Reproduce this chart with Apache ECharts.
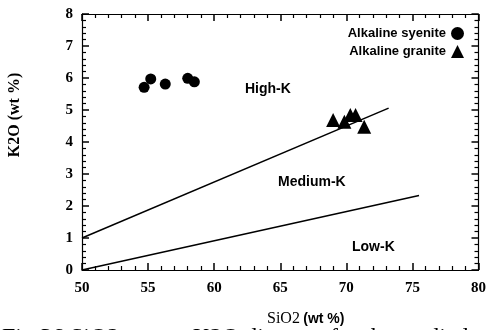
<!DOCTYPE html>
<html lang="en">
<head>
    <meta charset="UTF-8">
    <title>SiO2 vs K2O</title>
    <style>
        body { margin: 0; background: #fff; overflow: hidden; }
        #main { width: 489px; height: 330px; }
    </style>
</head>
<body>
    <div id="main"></div>
</body>
<script src="https://cdn.jsdelivr.net/npm/echarts@6/dist/echarts.min.js"></script>
<script>
    // data
    var syenite = [[54.7, 5.71], [55.2, 5.97], [56.3, 5.81], [58.0, 5.99], [58.5, 5.88]]
    var granite = [[69.0, 4.69], [69.85, 4.63], [70.3, 4.84], [70.7, 4.84], [71.35, 4.48]]
    var highMedLine = [[50, 1.0], [73.2, 5.06]]
    var medLowLine = [[50, 0.0], [75.5, 2.33]]
    var xTicks = [50, 55, 60, 65, 70, 75, 80]
    var yTicks = [0, 1, 2, 3, 4, 5, 6, 7, 8]

    var serif = '"Liberation Serif", "DejaVu Serif", serif'
    var sans = '"Liberation Sans", Arial, sans-serif'

    var myChart = echarts.init(document.getElementById('main'))

    var tickLabel = { color: '#000', fontFamily: serif, fontWeight: 'bold', fontSize: 15 }
    var frameLine = { show: true, onZero: false, lineStyle: { color: '#000', width: 1.2 } }
    var majorTick = { show: true, inside: true, length: 7, lineStyle: { color: '#000', width: 1.5 } }
    var minorTick = { show: true, splitNumber: 5, length: 4, lineStyle: { color: '#000', width: 1.2 } }

    var option = {
        animation: false,
        grid: { left: 82, right: 7, top: 14, bottom: 60 },
        legend: {
            orient: 'vertical',
            right: 20,
            top: 22,
            align: 'right',
            itemGap: 5,
            itemWidth: 13,
            itemHeight: 13,
            textStyle: { color: '#000', fontFamily: sans, fontWeight: 'bold', fontSize: 13 },
            data: ['Alkaline syenite', 'Alkaline granite']
        },
        xAxis: [{
            type: 'value', min: xTicks[0], max: xTicks[xTicks.length - 1], interval: 5,
            axisLine: frameLine, axisTick: majorTick, minorTick: minorTick,
            splitLine: { show: false },
            axisLabel: Object.assign({ margin: 11 }, tickLabel)
        }, {
            type: 'value', position: 'top', min: xTicks[0], max: xTicks[xTicks.length - 1], interval: 5,
            axisLine: frameLine, axisTick: majorTick, minorTick: minorTick,
            splitLine: { show: false }, axisLabel: { show: false }
        }],
        yAxis: [{
            type: 'value', min: yTicks[0], max: yTicks[yTicks.length - 1], interval: 1,
            axisLine: frameLine, axisTick: majorTick, minorTick: minorTick,
            splitLine: { show: false },
            axisLabel: Object.assign({ margin: 9 }, tickLabel)
        }, {
            type: 'value', position: 'right', min: yTicks[0], max: yTicks[yTicks.length - 1], interval: 1,
            axisLine: frameLine, axisTick: majorTick, minorTick: minorTick,
            splitLine: { show: false }, axisLabel: { show: false }
        }],
        series: [{
            type: 'line', data: highMedLine, symbol: 'none', silent: true,
            lineStyle: { color: '#000', width: 1.5 }
        }, {
            type: 'line', data: medLowLine, symbol: 'none', silent: true,
            lineStyle: { color: '#000', width: 1.5 }
        }, {
            name: 'Alkaline syenite', type: 'scatter', data: syenite,
            symbol: 'circle', symbolSize: 11,
            itemStyle: { color: '#000', opacity: 1 }
        }, {
            name: 'Alkaline granite', type: 'scatter', data: granite,
            symbol: 'triangle', symbolSize: 14,
            itemStyle: { color: '#000', opacity: 1 }
        }],
        graphic: [
            { type: 'text', left: 245, top: 82, style: { text: 'High-K', font: 'bold 14px ' + sans, fill: '#000' } },
            { type: 'text', left: 278, top: 175, style: { text: 'Medium-K', font: 'bold 14px ' + sans, fill: '#000' } },
            { type: 'text', left: 352, top: 240, style: { text: 'Low-K', font: 'bold 14px ' + sans, fill: '#000' } },
            {
                type: 'text', x: 15, y: 115, rotation: Math.PI / 2,
                style: { text: 'K2O (wt %)', font: 'bold 16px ' + serif, fill: '#000', align: 'center', verticalAlign: 'middle' }
            },
            {
                type: 'text', left: 267, top: 311,
                style: {
                    text: '{a|SiO2} {b|(wt %)}',
                    rich: {
                        a: { fontFamily: serif, fontSize: 16, color: '#000' },
                        b: { fontFamily: sans, fontSize: 14, fontWeight: 'bold', color: '#000' }
                    }
                }
            },
            {
                type: 'text', left: 2, top: 326,
                style: { text: 'Fig.36 SiO2 versus K2O diagram for the studied', font: '24px ' + serif, fill: '#000' }
            }
        ]
    }
    myChart.setOption(option)
</script>
</html>
